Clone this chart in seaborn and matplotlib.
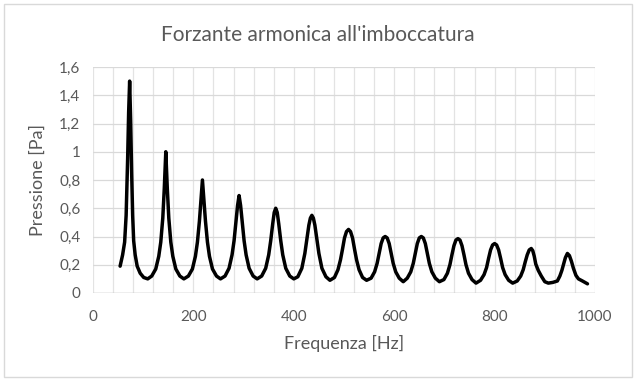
import matplotlib
matplotlib.use("Agg")
import matplotlib.pyplot as plt
import seaborn as sns
import pandas as pd

# frequenze [Hz] e pressione [Pa]
freq = [54, 59, 63, 66, 69, 71, 73, 75, 77, 79, 81, 84, 88, 94, 101, 109,
        117, 125, 131, 135, 139, 142, 145, 148, 151, 155, 159, 165, 173, 181,
        190, 198, 204, 208, 212, 215, 218, 221, 224, 228, 232, 238, 246, 254,
        263, 271, 277, 281, 285, 288, 291, 294, 297, 301, 305, 311, 319, 327,
        336, 344, 350, 354, 358, 361, 364, 367, 370, 374, 378, 384, 392, 400,
        408, 416, 422, 426, 430, 433, 436, 439, 442, 446, 450, 456, 464, 472,
        481, 488, 493, 497, 501, 505, 509, 513, 517, 521, 525, 530, 537, 545,
        554, 561, 566, 570, 574, 578, 582, 586, 590, 594, 598, 603, 610, 618,
        626, 633, 638, 642, 646, 650, 654, 658, 662, 666, 670, 675, 682, 690,
        699, 706, 711, 715, 719, 723, 727, 731, 735, 739, 743, 748, 755, 763,
        772, 779, 784, 788, 792, 796, 800, 804, 808, 812, 816, 821, 828, 836,
        845, 852, 857, 861, 865, 869, 873, 876, 879, 882, 887, 893, 900, 907,
        916, 925, 930, 934, 938, 941, 945, 949, 953, 957, 962, 967, 975, 985]

pressione = [0.19, 0.27, 0.36, 0.55, 0.95, 1.28, 1.50, 1.22, 0.85, 0.55, 0.37, 0.27, 0.19, 0.14, 0.11, 0.10,
             0.12, 0.17, 0.26, 0.36, 0.53, 0.74, 1.00, 0.74, 0.53, 0.36, 0.26, 0.17, 0.12, 0.10,
             0.12, 0.17, 0.26, 0.36, 0.51, 0.66, 0.80, 0.66, 0.51, 0.36, 0.26, 0.17, 0.12, 0.10,
             0.12, 0.175, 0.27, 0.37, 0.51, 0.62, 0.69, 0.62, 0.51, 0.37, 0.27, 0.175, 0.12, 0.10,
             0.12, 0.175, 0.27, 0.37, 0.49, 0.57, 0.60, 0.57, 0.49, 0.37, 0.27, 0.175, 0.12, 0.10,
             0.115, 0.175, 0.28, 0.38, 0.48, 0.53, 0.55, 0.53, 0.48, 0.38, 0.28, 0.175, 0.115, 0.09,
             0.11, 0.165, 0.235, 0.31, 0.39, 0.435, 0.45, 0.435, 0.39, 0.31, 0.235, 0.165, 0.11, 0.09,
             0.105, 0.15, 0.21, 0.28, 0.35, 0.39, 0.40, 0.39, 0.35, 0.28, 0.21, 0.15, 0.105, 0.08,
             0.105, 0.15, 0.21, 0.28, 0.35, 0.39, 0.40, 0.39, 0.35, 0.28, 0.21, 0.15, 0.105, 0.08,
             0.095, 0.14, 0.20, 0.27, 0.335, 0.375, 0.385, 0.375, 0.335, 0.27, 0.20, 0.14, 0.095, 0.07,
             0.09, 0.13, 0.18, 0.245, 0.305, 0.34, 0.35, 0.34, 0.305, 0.245, 0.18, 0.13, 0.09, 0.07,
             0.085, 0.12, 0.165, 0.22, 0.27, 0.305, 0.315, 0.30, 0.26, 0.205, 0.16, 0.12, 0.08, 0.07,
             0.075, 0.085, 0.12, 0.16, 0.21, 0.25, 0.28, 0.265, 0.225, 0.175, 0.125, 0.10, 0.085, 0.065]

y_ticks = [0, 0.2, 0.4, 0.6, 0.8, 1.0, 1.2, 1.4, 1.6]
y_labels = ["0", "0,2", "0,4", "0,6", "0,8", "1", "1,2", "1,4", "1,6"]
x_ticks = [0, 200, 400, 600, 800, 1000]

df = pd.DataFrame({"Frequenza": freq, "Pressione": pressione})

sns.set_style("white")
plt.rcParams["font.family"] = ["Lato", "DejaVu Sans"]
grigio = "#595959"

fig = plt.figure(figsize=(6.36, 3.81), dpi=100)
ax = fig.add_axes([93 / 636, 88 / 381, 502 / 636, 226 / 381])

# griglia verticale ogni 40 Hz, orizzontale ogni 0,2
for xv in range(0, 1001, 40):
    ax.axvline(xv, color="#e3e3e3", lw=0.9, zorder=0)
for yv in y_ticks:
    ax.axhline(yv, color="#d9d9d9", lw=0.9, zorder=0)

sns.lineplot(data=df, x="Frequenza", y="Pressione", color="black", lw=2.5,
             sort=False, estimator=None, ax=ax)

ax.set_xlim(0, 1000)
ax.set_ylim(0, 1.6)
ax.set_xticks(x_ticks)
ax.set_yticks(y_ticks)
ax.set_yticklabels(y_labels)
for s in ax.spines.values():
    s.set_visible(False)
ax.axhline(0, color="#bfbfbf", lw=1.0, zorder=1)
ax.tick_params(length=0, labelsize=11, colors=grigio, pad=9)
ax.tick_params(axis="x", pad=12)

ax.set_xlabel("Frequenza [Hz]", fontsize=13, color=grigio, labelpad=8)
ax.set_ylabel("Pressione [Pa]", fontsize=13, color=grigio, labelpad=10)
fig.suptitle("Forzante armonica all'imboccatura", fontsize=15, color=grigio, y=0.935)

# bordo dell'area del grafico
fig.patches.append(plt.Rectangle((4 / 636, 4 / 381), 628 / 636, 373 / 381, fill=False,
                                 edgecolor="#d9d9d9", lw=1.0, transform=fig.transFigure))

fig.savefig("out.png", dpi=100)
